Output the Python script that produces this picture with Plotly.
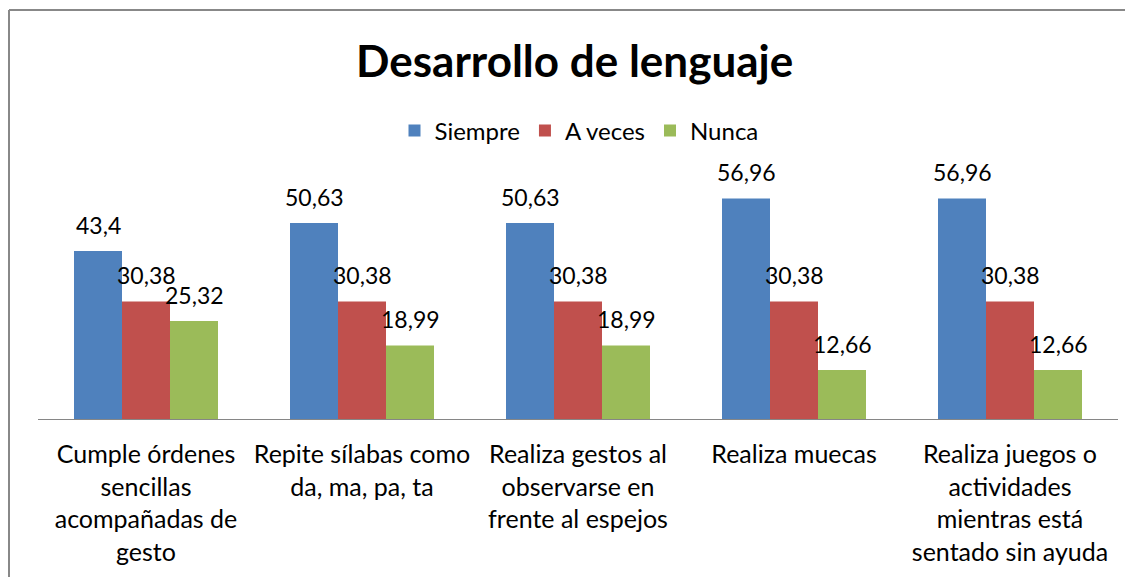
import plotly.graph_objects as go

categories = [
    "Cumple órdenes<br>sencillas<br>acompañadas de<br>gesto",
    "Repite sílabas como<br>da, ma, pa, ta",
    "Realiza gestos al<br>observarse en<br>frente al espejos",
    "Realiza muecas",
    "Realiza juegos o<br>actividades<br>mientras está<br>sentado sin ayuda",
]
series_names = ["Siempre", "A veces", "Nunca"]
siempre = [43.4, 50.63, 50.63, 56.96, 56.96]
a_veces = [30.38, 30.38, 30.38, 30.38, 30.38]
nunca = [25.32, 18.99, 18.99, 12.66, 12.66]
labels_siempre = ["43,4", "50,63", "50,63", "56,96", "56,96"]
labels_a_veces = ["30,38", "30,38", "30,38", "30,38", "30,38"]
labels_nunca = ["25,32", "18,99", "18,99", "12,66", "12,66"]

colors = ["#4F81BD", "#C0504D", "#9BBB59"]
FONT = "Lato"

fig = go.Figure()
all_vals = [siempre, a_veces, nunca]
all_labels = [labels_siempre, labels_a_veces, labels_nunca]
for name, vals, col in zip(series_names, all_vals, colors):
    fig.add_trace(go.Bar(x=categories, y=vals, name=name, marker=dict(color=col, line=dict(width=0))))

offsets = [-48, 0, 48]
annotations = []
for vals, labs, off in zip(all_vals, all_labels, offsets):
    for c, v, t in zip(categories, vals, labs):
        annotations.append(dict(x=c, y=v, text=t, showarrow=False, xshift=off, yshift=26,
                                yanchor="middle", xanchor="center",
                                font=dict(family=FONT, size=23, color="#000000")))

# page has an 8px body margin; work in page coordinates and convert
OFF = 8
W, H = 1125, 569
PL, PR, PT, PB = 38, 1118, 148, 419  # plot area in page coords
L, T = PL - OFF, PT - OFF
R = W - (PR - OFF)
B = H - (PB - OFF)
pw, ph = W - L - R, H - T - B

def px(x):
    return (x - OFF - L) / pw

def py(y):
    return (H - B - (y - OFF)) / ph

shapes = [
    dict(type="line", xref="paper", yref="paper", x0=px(9), x1=px(9), y0=py(600), y1=py(10),
         line=dict(color="#888888", width=2)),
    dict(type="line", xref="paper", yref="paper", x0=px(9), x1=px(1140), y0=py(10), y1=py(10),
         line=dict(color="#888888", width=2)),
]

fig.update_layout(
    width=W, height=H,
    margin=dict(l=L, r=R, t=T, b=B, autoexpand=False),
    paper_bgcolor="white", plot_bgcolor="white",
    barmode="group", bargap=0.3333, bargroupgap=0,
    title=dict(text="<b>Desarrollo de lenguaje</b>", x=px(582), xanchor="center",
               y=1 - (62 - OFF) / H, yanchor="middle",
               font=dict(family=FONT, size=44, color="#000000")),
    legend=dict(orientation="h", x=px(579), xanchor="center", y=py(131), yanchor="middle",
                font=dict(family=FONT, size=24, color="#000000"), itemwidth=30,
                traceorder="normal"),
    xaxis=dict(showline=True, linecolor="#868686", linewidth=1, ticks="",
               tickfont=dict(family=FONT, size=25, color="#000000"), showgrid=False,
               ticklabelstandoff=13),
    yaxis=dict(range=[0, 70], visible=False, showgrid=False),
    annotations=annotations,
    shapes=shapes,
    font=dict(family=FONT),
)

fig.write_html("out.html")
